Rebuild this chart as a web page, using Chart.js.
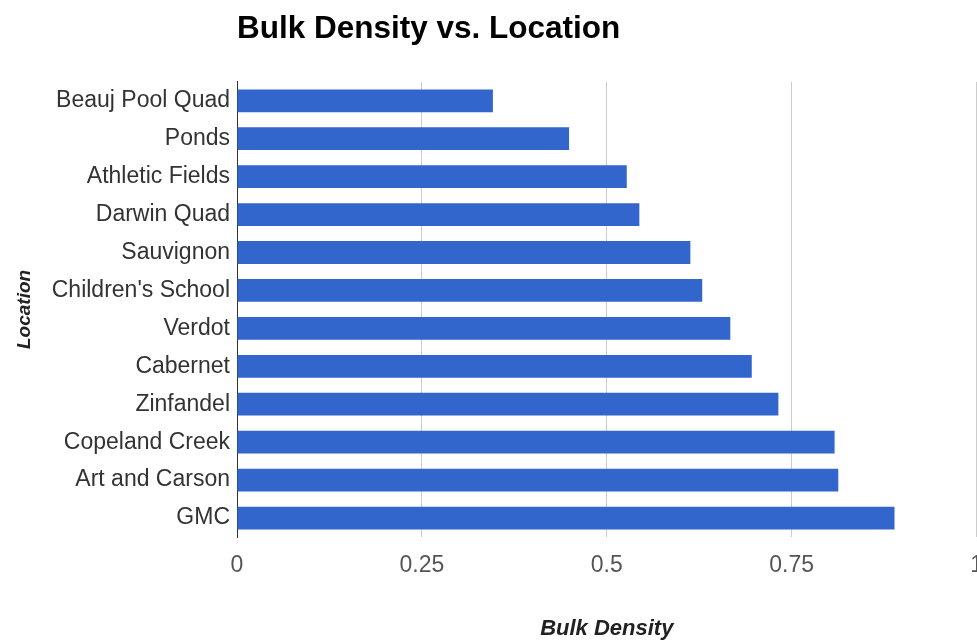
<!DOCTYPE html>
<html>
<head>
<meta charset="utf-8">
<script src="https://cdn.jsdelivr.net/npm/chart.js@4/dist/chart.umd.min.js"></script>
<style>
  html, body { margin: 0; padding: 0; background: #fff; overflow: hidden; }
  #wrap { width: 998px; height: 643px; }
</style>
</head>
<body>
<div id="wrap"><canvas id="densityChart" width="998" height="643"></canvas></div>
<script>
// ---------------- data ----------------
const locations = [
  "Beauj Pool Quad", "Ponds", "Athletic Fields", "Darwin Quad", "Sauvignon",
  "Children's School", "Verdot", "Cabernet", "Zinfandel", "Copeland Creek",
  "Art and Carson", "GMC"
];
const bulkDensity = [0.346, 0.449, 0.527, 0.544, 0.613, 0.629, 0.667, 0.696, 0.732, 0.808, 0.813, 0.889];
const xTicks = [0, 0.25, 0.5, 0.75, 1];

const ctx = document.getElementById("densityChart");

const config = {
  type: "bar",
  data: {
    labels: locations,
    datasets: [
      {
        label: "Bulk Density",
        data: bulkDensity,
        backgroundColor: "#3366cc",
        borderWidth: 0,
        categoryPercentage: 0.6,
        barPercentage: 1.0,
      },
    ],
  },
  options: {
    indexAxis: "y",
    responsive: false,
    animation: false,
    layout: { padding: 0 },
    plugins: {
      legend: { display: false },
      tooltip: { enabled: false },
      title: {
        display: true,
        text: "Bulk Density vs. Location",
        align: "start",
        fullSize: false,
        color: "#000",
        font: { family: "'Liberation Sans', Arial, sans-serif", size: 31.5, weight: "bold" },
        padding: { top: 10, bottom: 34 },
      },
    },
    scales: {
      x: {
        min: 0,
        max: 1,
        afterBuildTicks: (scale) => {
          scale.ticks = xTicks.map((v) => ({ value: v }));
        },
        grid: { color: "#cccccc", drawTicks: false },
        border: { display: false },
        ticks: {
          padding: 15,
          color: "#555",
          font: { family: "'Liberation Sans', Arial, sans-serif", size: 23 },
          callback: (v) => String(v),
        },
        title: {
          display: true,
          text: "Bulk Density",
          color: "#222",
          font: { family: "'Liberation Sans', Arial, sans-serif", size: 22, weight: "bold", style: "italic" },
          padding: { top: 21, bottom: 1 },
        },
      },
      y: {
        grid: { display: false, drawTicks: false },
        border: { display: true, color: "#333", width: 1 },
        afterFit: (scale) => {
          scale.width = 237;
        },
        ticks: {
          padding: 7,
          color: "#333",
          font: { family: "'Liberation Sans', Arial, sans-serif", size: 23 },
        },
        title: {
          display: true,
          text: "Location",
          color: "#222",
          font: { family: "'Liberation Sans', Arial, sans-serif", size: 19, weight: "bold", style: "italic" },
          padding: { top: 13, bottom: 0 },
        },
      },
    },
  },
};

const densityChart = new Chart(ctx, config);
</script>
</body>
</html>
